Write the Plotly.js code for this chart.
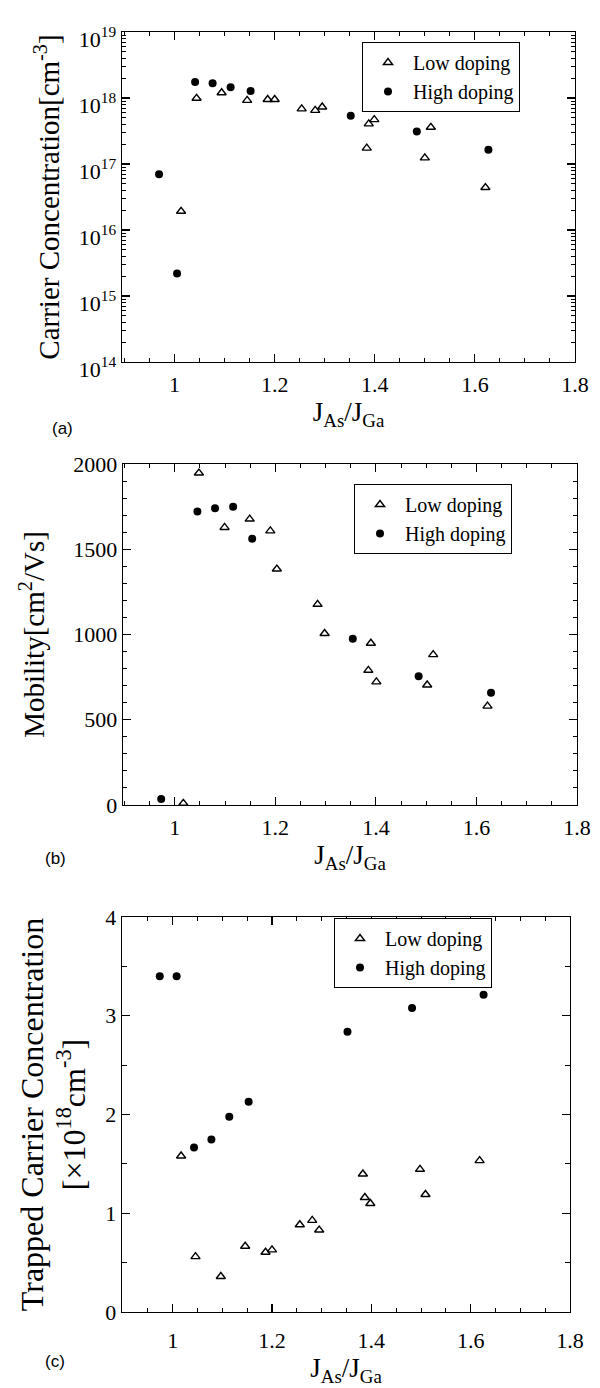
<!DOCTYPE html>
<html>
<head>
<meta charset="utf-8">
<script src="https://cdn.plot.ly/plotly-3.0.1.min.js"></script>
<style>html,body{margin:0;padding:0;background:#fff;}#chart{width:600px;height:1388px;}</style>
</head>
<body>
<div id="chart"></div>
<script>
// ---------- data ----------
// (a) Carrier concentration [cm^-3]
const lowX_a  = [1.013, 1.044, 1.094, 1.145, 1.186, 1.200, 1.254, 1.281, 1.295, 1.384, 1.388, 1.399, 1.500, 1.512, 1.621];
const lowY_a  = [1.92e16, 9.9e17, 1.2e18, 9.2e17, 9.5e17, 9.5e17, 6.85e17, 6.5e17, 7.3e17, 1.74e17, 4.06e17, 4.7e17, 1.24e17, 3.6e17, 4.4e16];
const highX_a = [0.969, 1.005, 1.041, 1.076, 1.112, 1.152, 1.352, 1.484, 1.627];
const highY_a = [7.0e16, 2.2e15, 1.75e18, 1.67e18, 1.46e18, 1.28e18, 5.4e17, 3.1e17, 1.64e17];

// (b) Mobility [cm^2/Vs]
const lowX_b  = [1.017, 1.048, 1.099, 1.149, 1.190, 1.203, 1.284, 1.298, 1.385, 1.390, 1.401, 1.502, 1.514, 1.622];
const lowY_b  = [10, 1947, 1628, 1677, 1608, 1384, 1177, 1006, 790, 949, 722, 704, 882, 580];
const highX_b = [0.973, 1.045, 1.080, 1.116, 1.154, 1.354, 1.485, 1.629];
const highY_b = [35, 1722, 1741, 1749, 1561, 975, 755, 659];

// (c) Trapped carrier concentration [x10^18 cm^-3]
const lowX_c  = [1.017, 1.046, 1.097, 1.146, 1.187, 1.200, 1.256, 1.281, 1.295, 1.383, 1.387, 1.398, 1.498, 1.509, 1.618];
const lowY_c  = [1.58, 0.561, 0.360, 0.666, 0.605, 0.629, 0.884, 0.928, 0.830, 1.398, 1.160, 1.099, 1.445, 1.190, 1.533];
const highX_c = [0.974, 1.008, 1.043, 1.078, 1.114, 1.153, 1.352, 1.482, 1.626];
const highY_c = [3.40, 3.40, 1.667, 1.748, 1.976, 2.128, 2.837, 3.079, 3.213];

// tick labels
const xTickVals = [1, 1.2, 1.4, 1.6, 1.8];
const xTickText = ['1', '1.2', '1.4', '1.6', '1.8'];
const yTickVals_a = [1e14, 1e15, 1e16, 1e17, 1e18, 1e19];
const yTickText_a = ['10<sup>14</sup>', '10<sup>15</sup>', '10<sup>16</sup>', '10<sup>17</sup>', '10<sup>18</sup>', '10<sup>19</sup>'];
const seriesNames = ['Low doping', 'High doping'];

// ---------- layout helpers ----------
const W = 600, H = 1388;
const px = v => v / W;
const py = v => 1 - v / H;
const SERIF = 'Liberation Serif';
const SANS = 'Liberation Sans';

function lowTrace(x, y, xa, ya, lg) {
  return {x, y, xaxis: xa, yaxis: ya, legend: lg, type: 'scatter', mode: 'markers', name: seriesNames[0],
    marker: {symbol: 'triangle-up-open', size: 8, color: '#000', line: {width: 1.4, color: '#000'}}};
}
function highTrace(x, y, xa, ya, lg) {
  return {x, y, xaxis: xa, yaxis: ya, legend: lg, type: 'scatter', mode: 'markers', name: seriesNames[1],
    marker: {symbol: 'circle', size: 8, color: '#000'}};
}

const data = [
  lowTrace(lowX_a, lowY_a, 'x', 'y', 'legend'),
  highTrace(highX_a, highY_a, 'x', 'y', 'legend'),
  lowTrace(lowX_b, lowY_b, 'x2', 'y2', 'legend2'),
  highTrace(highX_b, highY_b, 'x2', 'y2', 'legend2'),
  lowTrace(lowX_c, lowY_c, 'x3', 'y3', 'legend3'),
  highTrace(highX_c, highY_c, 'x3', 'y3', 'legend3')
];

function xaxis(l, r, anchor, lo, lblOff) {
  return {
    domain: [px(l), px(r)], anchor: anchor, range: [lo, 1.8],
    tickmode: 'array', tickvals: xTickVals, ticktext: xTickText,
    ticks: 'inside', ticklen: 8, tickwidth: 1.2, tickcolor: '#000',
    showline: true, linecolor: '#000', linewidth: 1.4, mirror: 'allticks',
    showgrid: false, zeroline: false, ticklabelstandoff: lblOff,
    minor: {dtick: 0.05, tick0: 0, ticks: 'inside', ticklen: 4, tickwidth: 1, tickcolor: '#000', showgrid: false},
    tickfont: {family: SERIF, size: 22, color: '#000'},
    title: {text: 'J<sub>As</sub>/J<sub>Ga</sub>', font: {family: SERIF, size: 27, color: '#000'}, standoff: 6}
  };
}
function yaxisBase(top, bottom, anchor) {
  return {
    domain: [py(bottom), py(top)], anchor: anchor,
    ticks: 'inside', ticklen: 8, tickwidth: 1.2, tickcolor: '#000',
    showline: true, linecolor: '#000', linewidth: 1.4, mirror: 'allticks',
    showgrid: false, zeroline: false,
    tickfont: {family: SERIF, size: 22, color: '#000'}
  };
}

const ya = Object.assign(yaxisBase(32, 362, 'x'), {
  type: 'log', range: [14, 19], tickmode: 'array', tickvals: yTickVals_a, ticktext: yTickText_a,
  ticklabelshift: 7,
  minor: {dtick: 'D1', ticks: 'inside', ticklen: 4, tickwidth: 1, tickcolor: '#000', showgrid: false},
  title: {text: 'Carrier Concentration[cm<sup>-3</sup>]', font: {family: SERIF, size: 29, color: '#000'}, standoff: 10}
});
const yb = Object.assign(yaxisBase(464, 805, 'x2'), {
  range: [0, 2000], tickmode: 'linear', tick0: 0, dtick: 500,
  minor: {dtick: 100, ticks: 'inside', ticklen: 4, tickwidth: 1, tickcolor: '#000', showgrid: false},
  title: {text: 'Mobility[cm<sup>2</sup>/Vs]', font: {family: SERIF, size: 29, color: '#000'}, standoff: 20}
});
const yc = Object.assign(yaxisBase(917, 1312, 'x3'), {
  range: [0, 4], tickmode: 'linear', tick0: 0, dtick: 1,
  minor: {dtick: 0.5, ticks: 'inside', ticklen: 5, tickwidth: 1, tickcolor: '#000', showgrid: false},
  title: {text: 'Trapped Carrier Concentration<br>[×10<sup>18</sup>cm<sup>-3</sup>]', font: {family: SERIF, size: 32, color: '#000'}, standoff: 10}
});

function legend(x, y) {
  return {x: px(x), y: py(y), xanchor: 'left', yanchor: 'top', bgcolor: '#fff', bordercolor: '#000', borderwidth: 1,
    font: {family: SERIF, size: 20, color: '#000'}, tracegroupgap: 0, itemwidth: 40};
}

const layout = {
  width: W, height: H,
  margin: {l: 0, r: 0, t: 0, b: 0},
  paper_bgcolor: '#fff', plot_bgcolor: '#fff',
  font: {family: SERIF, color: '#000'},
  showlegend: true,
  xaxis: xaxis(122, 575, 'y', 0.895, 2),
  xaxis2: xaxis(123, 577, 'y2', 0.897, 2),
  xaxis3: xaxis(122, 570, 'y3', 0.898, 8),
  yaxis: ya, yaxis2: yb, yaxis3: yc,
  legend: legend(362, 42),
  legend2: legend(354, 484),
  legend3: legend(334, 918),
  annotations: [
    {text: '(a)', xref: 'paper', yref: 'paper', x: px(50), y: py(417), showarrow: false, font: {family: SANS, size: 17, color: '#000'}},
    {text: '(b)', xref: 'paper', yref: 'paper', x: px(43), y: py(858), showarrow: false, font: {family: SANS, size: 17, color: '#000'}},
    {text: '(c)', xref: 'paper', yref: 'paper', x: px(43), y: py(1373), showarrow: false, font: {family: SANS, size: 17, color: '#000'}}
  ]
};

Plotly.newPlot('chart', data, layout, {displayModeBar: false, staticPlot: true});
</script>
</body>
</html>
